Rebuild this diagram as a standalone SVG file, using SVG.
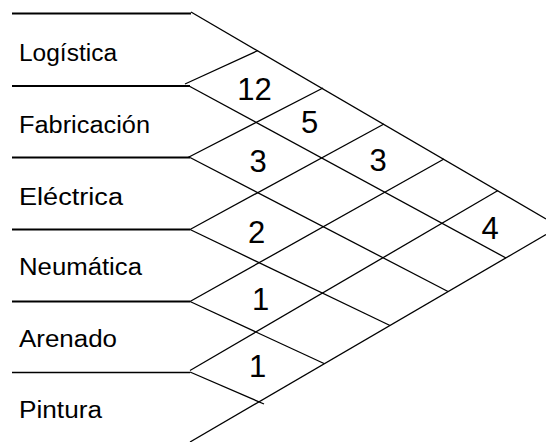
<svg xmlns="http://www.w3.org/2000/svg" width="546" height="442" viewBox="0 0 546 442">
<style>
.h{stroke:#000;stroke-width:2;fill:none}
.d{stroke:#000;stroke-width:1.3;fill:none;stroke-linecap:butt}
.lab{font-family:"Liberation Sans",Arial,sans-serif;font-size:23.5px;fill:#000}
.num{font-family:"Liberation Sans",Arial,sans-serif;font-size:31px;fill:#000;text-anchor:middle}
</style>
<rect width="546" height="442" fill="#fff"/>
<g id="rows">
  <g id="row-logistica"><line class="h" x1="12" y1="13.5" x2="191" y2="13.5"/><text class="lab" x="19" y="61" textLength="98" lengthAdjust="spacingAndGlyphs">Logística</text></g>
  <g id="row-fabricacion"><line class="h" x1="12" y1="86" x2="190" y2="86"/><text class="lab" x="19" y="133" textLength="131" lengthAdjust="spacingAndGlyphs">Fabricación</text></g>
  <g id="row-electrica"><line class="h" x1="12" y1="157.5" x2="190" y2="157.5"/><text class="lab" x="19" y="205" textLength="104" lengthAdjust="spacingAndGlyphs">Eléctrica</text></g>
  <g id="row-neumatica"><line class="h" x1="12" y1="229.5" x2="190" y2="229.5"/><text class="lab" x="19" y="275" textLength="123" lengthAdjust="spacingAndGlyphs">Neumática</text></g>
  <g id="row-arenado"><line class="h" x1="12" y1="301.5" x2="190" y2="301.5"/><text class="lab" x="19" y="347" textLength="98" lengthAdjust="spacingAndGlyphs">Arenado</text></g>
  <g id="row-pintura"><line class="h" x1="12" y1="372.5" x2="190" y2="372.5" style="stroke-width:1.4"/><text class="lab" x="19" y="418" textLength="83" lengthAdjust="spacingAndGlyphs">Pintura</text></g>
</g>
<g id="connectors">
  <line class="d" x1="191" y1="12" x2="546" y2="219"/>
  <line class="d" x1="185" y1="84" x2="258" y2="50.5"/>
  <line class="d" x1="189" y1="86" x2="506" y2="258"/>
  <line class="d" x1="188" y1="157.5" x2="323" y2="88"/>
  <line class="d" x1="190" y1="157.5" x2="448" y2="291.5"/>
  <line class="d" x1="190" y1="229.5" x2="384" y2="124"/>
  <line class="d" x1="190" y1="229.5" x2="390" y2="325.5"/>
  <line class="d" x1="190" y1="301.5" x2="444" y2="159"/>
  <line class="d" x1="190" y1="301.5" x2="324" y2="363.5"/>
  <line class="d" x1="190" y1="370.5" x2="498" y2="190.5"/>
  <line class="d" x1="190" y1="372" x2="264" y2="404"/>
  <line class="d" x1="190" y1="442" x2="546" y2="234.5"/>
</g>
<g id="values">
  <text class="num" x="254.5" y="100">12</text>
  <text class="num" x="309.5" y="133">5</text>
  <text class="num" x="378" y="171">3</text>
  <text class="num" x="258" y="172">3</text>
  <text class="num" x="256.5" y="243">2</text>
  <text class="num" x="490" y="239">4</text>
  <text class="num" x="260.5" y="310">1</text>
  <text class="num" x="257.5" y="377">1</text>
</g>
</svg>
